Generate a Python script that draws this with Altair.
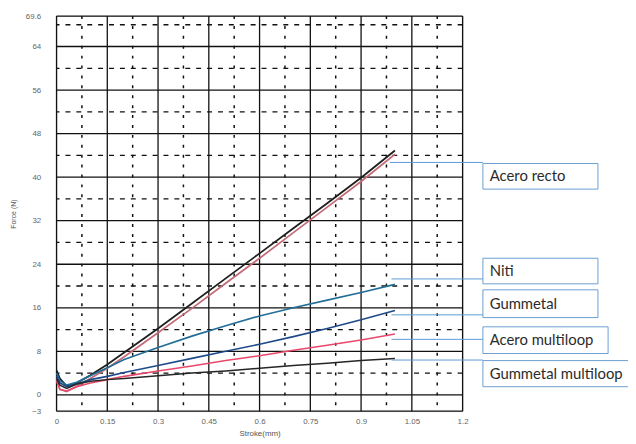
import altair as alt
import pandas as pd

# ---- data ----
stroke = [0, 0.01, 0.03, 0.06, 0.1, 0.15, 0.2, 0.3, 0.4, 0.5, 0.6, 0.7, 0.8, 0.9, 1.0]
acero_recto = [4.5, 3.0, 1.6, 2.2, 3.6, 5.6, 7.8, 12.2, 16.8, 21.4, 26.0, 30.6, 35.2, 39.9, 44.9]
acero_recto_b = [3.0, 1.0, 0.6, 1.6, 3.0, 4.9, 7.0, 11.4, 15.9, 20.5, 25.1, 29.8, 34.5, 39.2, 44.2]
niti = [4.0, 2.6, 1.8, 2.3, 3.5, 5.0, 6.5, 8.7, 10.8, 12.7, 14.5, 16.0, 17.4, 18.8, 20.3]
gummetal = [3.5, 2.2, 1.5, 2.0, 2.8, 3.4, 4.1, 5.4, 6.7, 8.0, 9.3, 10.7, 12.2, 13.8, 15.5]
acero_multiloop = [2.5, 1.0, 0.7, 1.5, 2.2, 2.8, 3.4, 4.4, 5.3, 6.3, 7.2, 8.2, 9.1, 10.1, 11.2]
gummetal_multiloop = [3.0, 1.8, 1.2, 2.0, 2.5, 2.8, 3.0, 3.5, 4.0, 4.4, 4.9, 5.4, 5.8, 6.3, 6.7]

series_names = ["Acero recto", "Acero recto (2)", "Niti", "Gummetal",
                "Acero multiloop", "Gummetal multiloop"]
series_values = [acero_recto, acero_recto_b, niti, gummetal,
                 acero_multiloop, gummetal_multiloop]
series_colors = ["#1e1e1e", "#c46a76", "#236e96", "#1f4a8a", "#e8486c", "#262626"]
series_widths = [1.8, 1.5, 3.2, 2.2, 2.6, 1.8]

# callout boxes
box_labels = ["Acero recto", "Niti", "Gummetal", "Acero multiloop", "Gummetal multiloop"]
box_x1 = [1.26, 1.26, 1.26, 1.26, 1.26]
box_x2 = [1.60, 1.60, 1.60, 1.63, 1.85]
box_top = [42.5, 25.1, 19.3, 12.5, 6.3]
box_bottom = [37.8, 20.4, 14.2, 7.6, 1.5]
leader_x1 = [0.985, 0.99, 0.99, 0.99, 0.99]
leader_y = [42.7, 21.3, 14.7, 10.2, 6.4]

# grid positions
solid_y = [-3, 0, 8, 16, 24, 32, 40, 48, 56, 64, 69.6]
dashed_y = [4, 12, 20, 28, 36, 44, 52, 60, 68]
solid_x = [0, 0.15, 0.3, 0.45, 0.6, 0.75, 0.9, 1.05, 1.2]
dashed_x = [0.075, 0.225, 0.375, 0.525, 0.675, 0.825, 0.975, 1.125]
y_ticks = [-3, 0, 8, 16, 24, 32, 40, 48, 56, 64, 69.6]
x_ticks = [0, 0.15, 0.3, 0.45, 0.6, 0.75, 0.9, 1.05, 1.2]

# ---- build tables ----
rows = []
for name, vals in zip(series_names, series_values):
    for i, (s, v) in enumerate(zip(stroke, vals)):
        rows.append({"series": name, "stroke": s, "force": v, "i": i})
df = pd.DataFrame(rows)

xs = alt.Scale(domain=[0, 1.2], nice=False, zero=False)
ys = alt.Scale(domain=[-3, 69.6], nice=False, zero=False)

FONT = "Liberation Sans"

ax_x = alt.Axis(values=x_ticks, format=".2~f", grid=False, domain=False,
                ticks=False, labelPadding=6, labelFontSize=8,
                labelColor="#666", labelFont=FONT, title="Stroke(mm)",
                titleFontSize=8, titleFont=FONT, titleFontWeight="normal",
                titleColor="#555", titlePadding=5, labelFlush=False)
ax_y = alt.Axis(values=y_ticks, format=".1~f", grid=False, domain=False,
                ticks=False, labelPadding=16, labelFontSize=8,
                labelColor="#666", labelFont=FONT, title="Force (N)",
                titleFontSize=7, titleFont=FONT, titleFontWeight="normal",
                titleColor="#555", titlePadding=9, labelFlush=False)


def X(field):
    return alt.X(field, type="quantitative", scale=xs, axis=ax_x, title="Stroke(mm)")


def Y(field):
    return alt.Y(field, type="quantitative", scale=ys, axis=ax_y, title="Force (N)")


lines = alt.Chart(df).mark_line(clip=False).encode(
    x=X("stroke"),
    y=Y("force"),
    color=alt.Color("series:N", scale=alt.Scale(domain=series_names, range=series_colors),
                    legend=None),
    strokeWidth=alt.StrokeWidth("series:N",
                                scale=alt.Scale(domain=series_names, range=series_widths),
                                legend=None),
    detail="series:N",
    order="i:Q",
)

hs = alt.Chart(pd.DataFrame({"y": solid_y})).mark_rule(color="#111", strokeWidth=1.3).encode(
    y=Y("y"))
hd = alt.Chart(pd.DataFrame({"y": dashed_y})).mark_rule(
    color="#111", strokeWidth=1.3, strokeDash=[5, 6]).encode(y=Y("y"))
vs = alt.Chart(pd.DataFrame({"x": solid_x})).mark_rule(color="#111", strokeWidth=1.3).encode(
    x=X("x"))
vd = alt.Chart(pd.DataFrame({"x": dashed_x})).mark_rule(
    color="#111", strokeWidth=1.5, strokeDash=[3, 7]).encode(x=X("x"))

boxes_df = pd.DataFrame({"label": box_labels, "x1": box_x1, "x2": box_x2,
                         "top": box_top, "bottom": box_bottom,
                         "lx": leader_x1, "ly": leader_y})
boxes_df["ty"] = (boxes_df["top"] + boxes_df["bottom"]) / 2
boxes_df["tx"] = boxes_df["x1"] + 0.02

leaders = alt.Chart(boxes_df).mark_rule(color="#5b9bd5", strokeWidth=1, clip=False).encode(
    x=X("lx"), x2="x1:Q", y=Y("ly"))
rects = alt.Chart(boxes_df).mark_rect(fill="white", stroke="#6b9fd2", strokeWidth=1,
                                      clip=False).encode(
    x=X("x1"), x2="x2:Q", y=Y("top"), y2="bottom:Q")
texts = alt.Chart(boxes_df).mark_text(align="left", baseline="middle", font="Lato",
                                      fontSize=15, color="#2b2b2b", clip=False).encode(
    x=X("tx"), y=Y("ty"), text="label:N")

chart = alt.layer(hs, hd, vs, vd, lines, leaders, rects, texts).properties(
    width=410, height=399,
    autosize=alt.AutoSizeParams(type="none"),
    padding={"left": 49, "top": 6, "right": 167, "bottom": 30},
).configure_view(stroke=None).configure(background="white")

chart.save("out.html", embed_options={"renderer": "svg", "actions": False})
